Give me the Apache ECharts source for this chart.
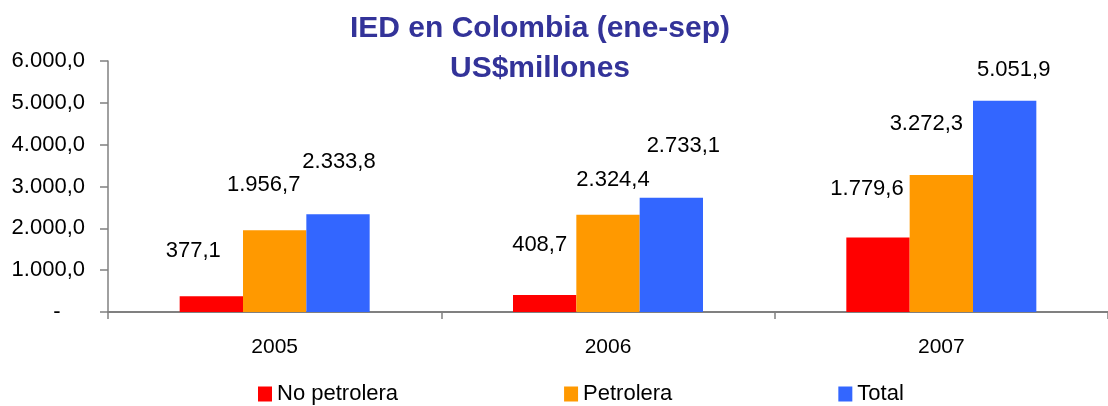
<!DOCTYPE html>
<html>
<head>
<meta charset="utf-8">
<title>IED en Colombia</title>
<script src="https://cdn.jsdelivr.net/npm/echarts@6.0.0/dist/echarts.min.js"></script>
<style>
  html, body { margin: 0; padding: 0; background: #fff; }
  #chart { width: 1108px; height: 406px; }
</style>
</head>
<body>
<div id="chart"></div>
<script>
  // datos (US$ millones, ene-sep)
  var years = ['2005', '2006', '2007'];
  var seriesNames = ['No petrolera', 'Petrolera', 'Total'];
  var noPetrolera = [377.1, 408.7, 1779.6];
  var petrolera = [1956.7, 2324.4, 3272.3];
  var total = [2333.8, 2733.1, 5051.9];
  var yTicks = [0, 1000, 2000, 3000, 4000, 5000, 6000];

  var colors = ['#ff0000', '#ff9900', '#3366ff'];
  var font = '"Liberation Sans", Arial, sans-serif';

  // the labels in the original were dragged around by hand, so each one gets its own nudge
  var labelShift = [
    [[-18, -34], [-5, -39], [-11, -38]],
    [[-11, -34], [5, -24], [-15, -40]],
    [[1, -41], [12, -41], [9, -20]]
  ];

  function fmt(v) {
    var parts = v.toFixed(1).split('.');
    return parts[0].replace(/\B(?=(\d{3})+(?!\d))/g, '.') + ',' + parts[1];
  }

  function makeSeries(idx, values) {
    return {
      name: seriesNames[idx],
      type: 'bar',
      barGap: '0%',
      barCategoryGap: '43%',
      itemStyle: { color: colors[idx] },
      label: {
        show: true,
        position: 'top',
        distance: 0,
        color: '#000',
        fontFamily: font,
        fontSize: 22,
        formatter: function (p) { return fmt(p.value); }
      },
      data: values.map(function (v, i) {
        return { value: v, label: { offset: labelShift[idx][i] } };
      })
    };
  }

  var chart = echarts.init(document.getElementById('chart'));
  chart.setOption({
    animation: false,
    backgroundColor: '#fff',
    title: {
      text: 'IED en Colombia (ene-sep)\nUS$millones',
      left: 540,
      top: 9,
      padding: 0,
      textAlign: 'center',
      textStyle: {
        color: '#333399',
        fontFamily: font,
        fontWeight: 'bold',
        fontSize: 30,
        lineHeight: 40
      }
    },
    legend: {
      data: seriesNames,
      left: 258,
      top: 383,
      padding: 0,
      itemWidth: 14,
      itemHeight: 15,
      itemGap: 166,
      icon: 'rect',
      textStyle: { color: '#000', fontFamily: font, fontSize: 22 }
    },
    grid: { left: 108, right: -2, top: 61, bottom: 94, containLabel: false },
    xAxis: {
      type: 'category',
      data: years,
      axisLine: { lineStyle: { color: '#808080', width: 2 } },
      axisTick: { show: true, length: 7, lineStyle: { color: '#808080', width: 1.5 } },
      axisLabel: { color: '#000', fontFamily: font, fontSize: 21, margin: 25 }
    },
    yAxis: {
      type: 'value',
      min: yTicks[0],
      max: yTicks[yTicks.length - 1],
      interval: yTicks[1] - yTicks[0],
      splitLine: { show: false },
      axisLine: { show: true, lineStyle: { color: '#808080', width: 1.5 } },
      axisTick: { show: true, length: 8, lineStyle: { color: '#808080', width: 1.5 } },
      axisLabel: {
        color: '#000',
        fontFamily: font,
        fontSize: 22,
        margin: 23,
        formatter: function (v) { return v === 0 ? '-    ' : fmt(v); }
      }
    },
    series: [
      makeSeries(0, noPetrolera),
      makeSeries(1, petrolera),
      makeSeries(2, total)
    ]
  });
</script>
</body>
</html>
